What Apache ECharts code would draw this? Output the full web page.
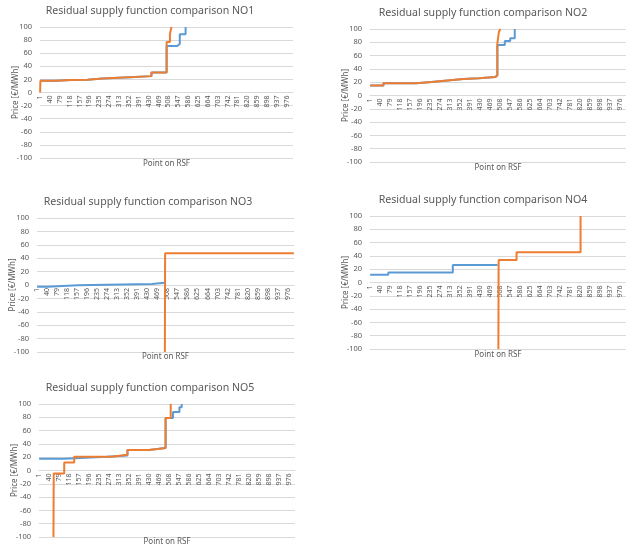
<!DOCTYPE html>
<html>
<head>
<meta charset="utf-8">
<script src="https://cdn.jsdelivr.net/npm/echarts@6/dist/echarts.min.js"></script>
<style>
  html, body { margin: 0; background: #fff; }
  #chart { width: 626px; height: 550px; }
</style>
</head>
<body>
<div id="chart"></div>
<script>
// x axis: points on the RSF, 1..1000
const rsfPoints = [];
for (let i = 1; i <= 1000; i++) rsfPoints.push(String(i));

const areaNames = ['NO1', 'NO2', 'NO3', 'NO4', 'NO5'];

// [point, price €/MWh] breakpoints of each step curve
const no1Blue = [[1, 18], [65, 19], [123, 19.5], [188, 21.5], [247, 23.5], [375, 25], [441, 30.5], [501, 71], [543, 74], [553, 89], [576, 100]];
const no1Orange = [[1, 0], [2, 18], [65, 19], [123, 19.5], [188, 21.5], [247, 23.5], [375, 25], [441, 30.5], [501, 77], [514, 89], [520, 100]];

const no2Blue = [[1, 15], [53, 18.6], [180, 20.2], [241, 22.7], [303, 24.7], [365, 25.8], [426, 27.8], [490, 30.3], [498, 76], [527, 82], [548, 86], [566, 100]];
const no2Orange = [[1, 15], [53, 18.6], [180, 20.2], [241, 22.7], [303, 24.7], [365, 25.8], [426, 27.8], [490, 30.3], [498, 78], [504, 96], [510, 100]];

const no3Blue = [[1, -2.5], [42, -0.5], [159, 1.5], [448, 3.5], [497, 3.5]];
const no3Orange = [[498, -100], [499, 47.5], [1000, 47.5]];

const no4Blue = [[1, 11.5], [72, 15], [324, 26.5], [499, 26.5]];
const no4Orange = [[502, -100], [503, 34], [573, 45.5], [823, 100]];

const no5Blue = [[1, 17.6], [99, 20.6], [264, 22.7], [346, 31], [430, 33.7], [495, 79], [524, 88], [549, 95], [558, 100]];
const no5Orange = [[57, -100], [58, -4.5], [99, 12], [138, 20.6], [284, 23.6], [346, 31], [430, 33.7], [495, 79], [515, 100]];

const blueSeries = [no1Blue, no2Blue, no3Blue, no4Blue, no5Blue];
const orangeSeries = [no1Orange, no2Orange, no3Orange, no4Orange, no5Orange];

// plot area of each panel, in pixels
const panels = [
  { left: 40, top: 27, width: 253, height: 131, titleX: 150, titleY: 5, nameY: 160 },
  { left: 370, top: 29, width: 256, height: 133, titleX: 483, titleY: 7, nameY: 164 },
  { left: 37, top: 218, width: 257, height: 134, titleX: 148, titleY: 196, nameY: 353 },
  { left: 370, top: 216, width: 256, height: 133, titleX: 483, titleY: 194, nameY: 351 },
  { left: 39, top: 404, width: 256, height: 133, titleX: 150, titleY: 382, nameY: 538 }
];

const textColor = '#595959';
const gridColor = '#d9d9d9';
const font = 'Noto Sans';

const chart = echarts.init(document.getElementById('chart'));

const titles = [];
const grids = [];
const xAxes = [];
const yAxes = [];
const series = [];

panels.forEach((p, i) => {
  titles.push({
    text: 'Residual supply function comparison ' + areaNames[i],
    left: p.titleX, top: p.titleY, textAlign: 'center', padding: 0,
    textStyle: { fontFamily: font, fontSize: 10.6, fontWeight: 'normal', color: textColor }
  });
  titles.push({
    text: 'Point on RSF',
    left: p.left + p.width / 2, top: p.nameY, textAlign: 'center', padding: 0,
    textStyle: { fontFamily: font, fontSize: 8, fontWeight: 'normal', color: textColor }
  });
  grids.push({ left: p.left, top: p.top, width: p.width, height: p.height, containLabel: false });
  // category axis sits on the zero line, labels hang below it
  xAxes.push({
    type: 'category',
    gridIndex: i,
    data: rsfPoints,
    position: 'bottom',
    offset: -p.height / 2,
    axisLine: { onZero: false, lineStyle: { color: gridColor, width: 1 } },
    axisTick: { show: false },
    axisLabel: {
      interval: 38, rotate: 90, margin: 3,
      fontFamily: font, fontSize: 7, color: textColor
    },
    splitLine: { show: false }
  });
  yAxes.push({
    type: 'value',
    gridIndex: i,
    min: -100, max: 100, interval: 20,
    name: 'Price [€/MWh]',
    nameLocation: 'middle',
    nameGap: 20,
    nameMoveOverlap: false,
    nameTextStyle: { fontFamily: font, fontSize: 8, color: textColor },
    axisLine: { show: false },
    axisTick: { show: false },
    axisLabel: { margin: 8, fontFamily: font, fontSize: 7.5, color: textColor },
    splitLine: { lineStyle: { color: gridColor, width: 1 } }
  });
  series.push({
    type: 'line', xAxisIndex: i, yAxisIndex: i, step: 'end',
    data: blueSeries[i].map(d => [d[0] - 1, d[1]]),
    showSymbol: false, lineStyle: { color: '#5B9BD5', width: 2 }, itemStyle: { color: '#5B9BD5' },
    animation: false, clip: true
  });
  series.push({
    type: 'line', xAxisIndex: i, yAxisIndex: i, step: 'end',
    data: orangeSeries[i].map(d => [d[0] - 1, d[1]]),
    showSymbol: false, lineStyle: { color: '#ED7D31', width: 2 }, itemStyle: { color: '#ED7D31' },
    animation: false, clip: true
  });
});

chart.setOption({
  backgroundColor: '#fff',
  animation: false,
  title: titles,
  grid: grids,
  xAxis: xAxes,
  yAxis: yAxes,
  series: series
});
</script>
</body>
</html>
